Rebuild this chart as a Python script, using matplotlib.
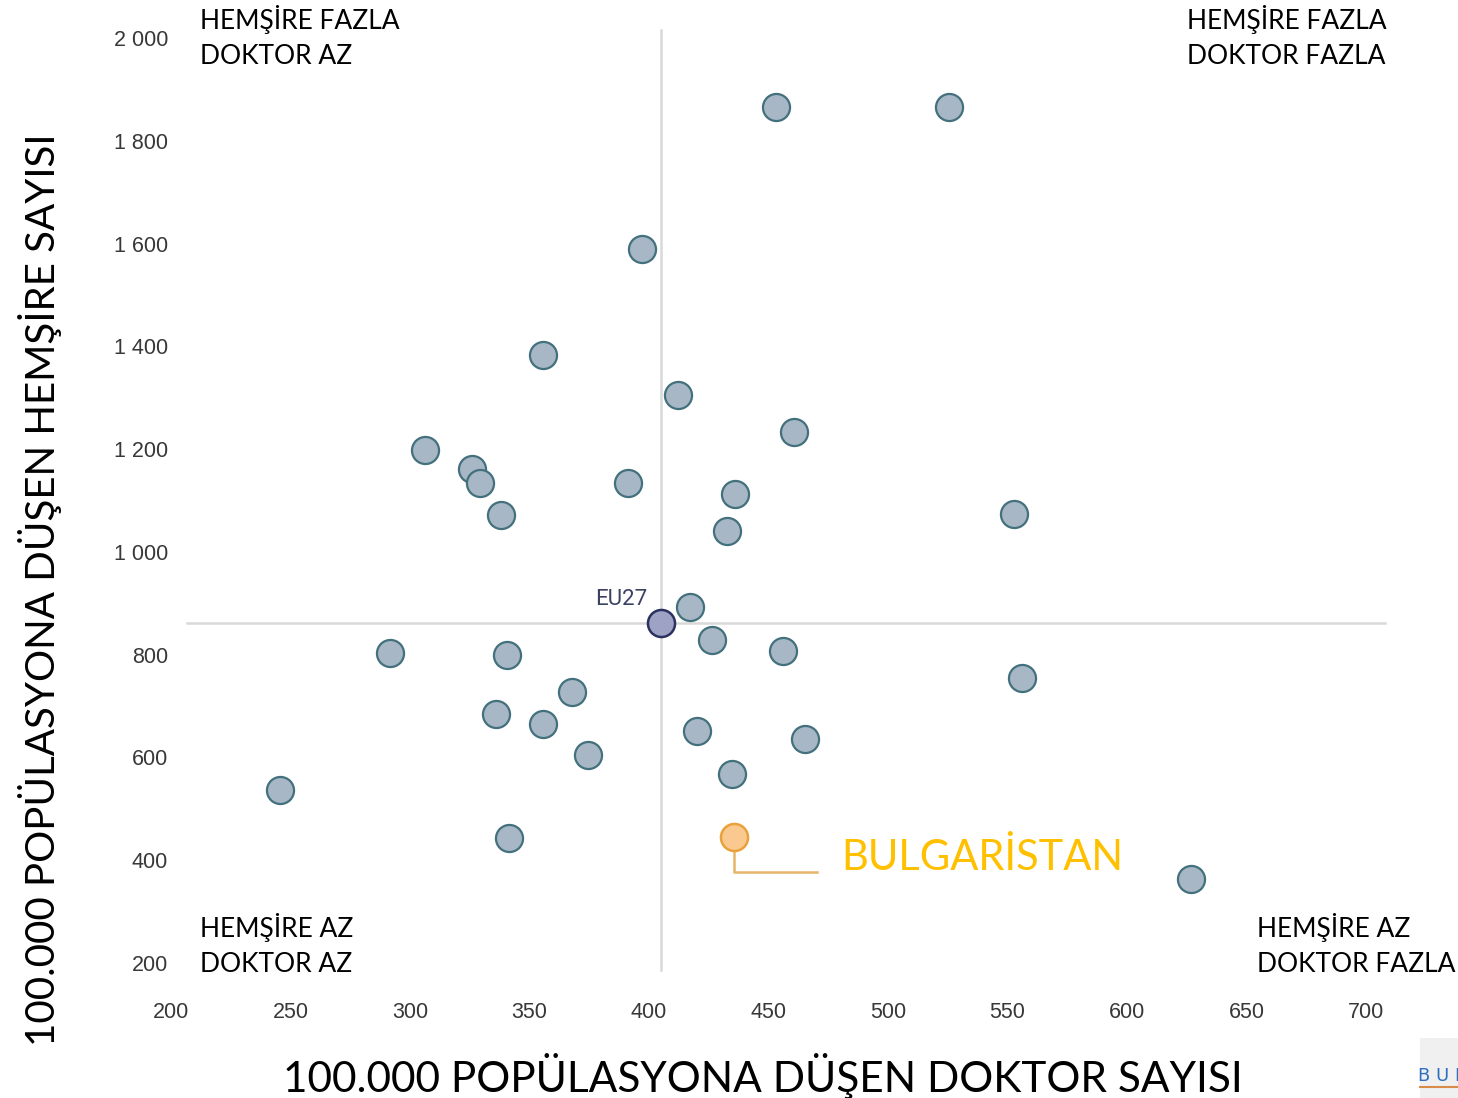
import matplotlib
matplotlib.use("Agg")
import matplotlib.pyplot as plt
from matplotlib.ticker import FuncFormatter
from matplotlib.patches import Rectangle

# ---- data (doctors per 100k, nurses per 100k) ----
doctors = [453, 525.5, 397, 355.6, 412.1, 460.7, 306.3, 325.9, 329.3, 391.2,
           436, 338.1, 552.7, 432.6, 417.2, 426.4, 291.6, 340.6, 456.1, 556.1,
           367.8, 336, 355.6, 420.1, 465.3, 374.5, 434.7, 245.6, 341.4, 626.8]
nurses = [1866, 1866, 1590, 1383, 1305, 1233, 1198, 1161, 1134, 1134,
          1113, 1072, 1074, 1041, 893, 829, 803, 800, 807, 755,
          728, 685, 665, 652, 636, 605, 568, 537, 444, 364]
eu27 = (405, 862)
eu_label = "EU27"
bulgaria = (435.6, 445)
bulgaria_label = "BULGARİSTAN"

x_ticks = [200, 250, 300, 350, 400, 450, 500, 550, 600, 650, 700]
y_ticks = [200, 400, 600, 800, 1000, 1200, 1400, 1600, 1800, 2000]

quadrants = {
    "tl": ["HEMŞİRE FAZLA", "DOKTOR AZ"],
    "tr": ["HEMŞİRE FAZLA", "DOKTOR FAZLA"],
    "bl": ["HEMŞİRE AZ", "DOKTOR AZ"],
    "br": ["HEMŞİRE AZ", "DOKTOR FAZLA"],
}
x_label = "100.000 POPÜLASYONA DÜŞEN DOKTOR SAYISI"
y_label = "100.000 POPÜLASYONA DÜŞEN HEMŞİRE SAYISI"

W, H = 1458, 1098
fig = plt.figure(figsize=(W / 100, H / 100), dpi=100)
ax = fig.add_axes([171 / W, 1 - 963 / H, (1366 - 171) / W, (963 - 38) / H])
ax.set_xlim(200, 700)
ax.set_ylim(200, 2000)
for s in ax.spines.values():
    s.set_visible(False)
ax.set_xticks(x_ticks)
ax.set_yticks(y_ticks)
fmt = FuncFormatter(lambda v, p: f"{int(v):,}".replace(",", " "))
ax.yaxis.set_major_formatter(fmt)
ax.xaxis.set_major_formatter(fmt)
ax.tick_params(length=0, labelsize=15.5, labelcolor="#383838")
for lab in ax.get_xticklabels() + ax.get_yticklabels():
    lab.set_fontfamily("Liberation Sans")
ax.tick_params(axis="y", pad=2)
ax.tick_params(axis="x", pad=28)

# reference lines through EU27
ax.axvline(eu27[0], ymin=-0.008, ymax=1.009, color="#d9d9d9", lw=1.8, clip_on=False, zorder=1)
ax.axhline(eu27[1], xmin=0.013, xmax=1.016, color="#d9d9d9", lw=1.8, clip_on=False, zorder=1)

ms = 380
ax.scatter(doctors, nurses, s=ms, facecolor="#a8b7c6", edgecolor="#42707c", linewidths=1.6, zorder=3)
ax.scatter([eu27[0]], [eu27[1]], s=ms, facecolor="#9ea3c6", edgecolor="#2b325f", linewidths=1.8, zorder=4)
ax.annotate(eu_label, (eu27[0], eu27[1]), xytext=(-10, 17), textcoords="offset points",
            ha="right", va="center", fontsize=16, color="#3b4162", family="Roboto")

# Bulgaria
ax.plot([bulgaria[0], bulgaria[0], bulgaria[0] + 34.5],
        [bulgaria[1], bulgaria[1] - 67, bulgaria[1] - 67],
        color="#e7b46a", lw=1.8, zorder=2)
ax.scatter([bulgaria[0]], [bulgaria[1]], s=ms, facecolor="#fac98f", edgecolor="#e9a13c", linewidths=1.8, zorder=4)
ax.text(bulgaria[0] + 45, bulgaria[1] - 40, bulgaria_label, ha="left", va="center",
        fontsize=30, color="#ffc000", family="Lato")

# quadrant labels
def qtext(px, py_list, lines):
    for py, line in zip(py_list, lines):
        fig.text(px / W, 1 - py / H, line, ha="left", va="center", fontsize=19,
                 color="black", family="Lato")

qtext(200, [20, 57], quadrants["tl"])
qtext(1187, [20, 57], quadrants["tr"])
qtext(200, [928, 965], quadrants["bl"])
qtext(1257, [928, 965], quadrants["br"])

# axis titles
fig.text(763 / W, 1 - 1076 / H, x_label, ha="center", va="center", fontsize=30.5, family="Lato")
fig.text(40 / W, 1 - 590 / H, y_label, ha="center", va="center", fontsize=29, family="Lato",
         rotation=90)

# small cropped logo fragment bottom right
fig.patches.append(Rectangle((1420 / W, 0), 38 / W, 60 / H, transform=fig.transFigure,
                             facecolor="#f0f0f0", edgecolor="none"))
fig.text(1418 / W, 1 - 1076 / H, "B U L", fontsize=13, color="#2f6fc0", va="center", ha="left")
fig.lines.append(plt.Line2D([1420 / W, 1], [1 - 1087 / H] * 2, transform=fig.transFigure,
                            color="#d98b4a", lw=1.5))

fig.savefig("out.png", dpi=100)
